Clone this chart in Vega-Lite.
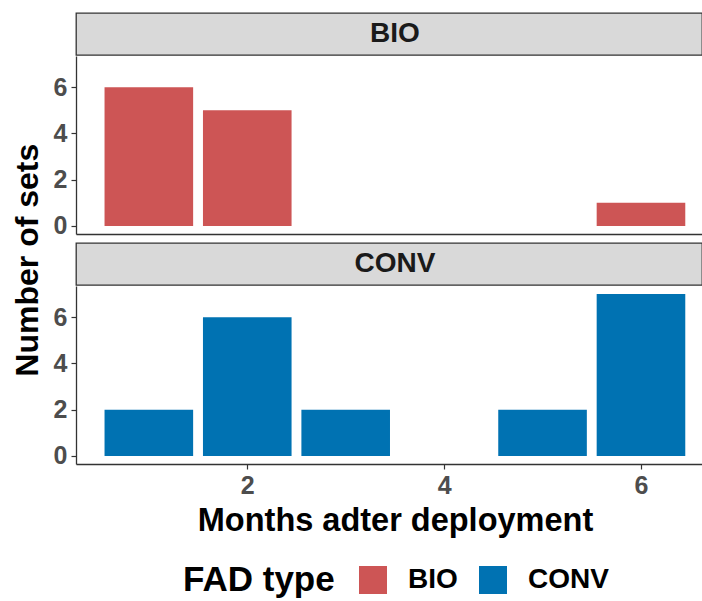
{
  "$schema": "https://vega.github.io/schema/vega-lite/v6.json",
  "padding": {"left": 12, "top": 12, "right": 0, "bottom": 0},
  "datasets": {
    "bars": [
      {"FAD": "BIO", "month": 1, "n": 6},
      {"FAD": "BIO", "month": 2, "n": 5},
      {"FAD": "BIO", "month": 6, "n": 1},
      {"FAD": "CONV", "month": 1, "n": 2},
      {"FAD": "CONV", "month": 2, "n": 6},
      {"FAD": "CONV", "month": 3, "n": 2},
      {"FAD": "CONV", "month": 5, "n": 2},
      {"FAD": "CONV", "month": 6, "n": 7}
    ],
    "stripBIO": [{"label": "BIO"}],
    "stripCONV": [{"label": "CONV"}]
  },
  "title": {
    "text": "Number of sets",
    "orient": "left",
    "anchor": "middle",
    "fontSize": 32,
    "fontWeight": "bold",
    "font": "Liberation Sans",
    "color": "#000000",
    "offset": 8,
    "dx": 45
  },
  "spacing": 3,
  "vconcat": [
    {
      "spacing": 0,
      "vconcat": [
        {
          "data": {"name": "stripBIO"},
          "width": 626,
          "height": 42,
          "view": {"fill": "#D9D9D9", "stroke": "#333333", "strokeWidth": 1.3},
          "mark": {"type": "text", "fontSize": 28, "fontWeight": "bold", "font": "Liberation Sans", "color": "#1A1A1A", "baseline": "middle", "align": "center", "dx": 6},
          "encoding": {"text": {"field": "label"}}
        },
        {
          "data": {"name": "bars"},
          "transform": [{"filter": "datum.FAD === 'BIO'"}],
          "width": 626,
          "height": 178,
          "view": {"stroke": null},
          "mark": {"type": "bar", "width": 88.6},
          "encoding": {
            "x": {"field": "month", "type": "quantitative", "scale": {"domain": [0.26, 6.62], "nice": false, "zero": false, "padding": 0},
                  "axis": {"title": null, "labels": false, "ticks": false, "grid": false}},
            "y": {"field": "n", "type": "quantitative", "scale": {"domain": [-0.35, 7.35], "nice": false, "zero": false, "padding": 0},
                  "axis": {"title": null, "values": [0, 2, 4, 6], "grid": false}},
            "color": {"field": "FAD", "type": "nominal", "scale": {"domain": ["BIO", "CONV"], "range": ["#CD5555", "#0072B2"]},
                      "legend": {"title": "FAD type"}}
          }
        }
      ]
    },
    {
      "spacing": 0,
      "vconcat": [
        {
          "data": {"name": "stripCONV"},
          "width": 626,
          "height": 42,
          "view": {"fill": "#D9D9D9", "stroke": "#333333", "strokeWidth": 1.3},
          "mark": {"type": "text", "fontSize": 28, "fontWeight": "bold", "font": "Liberation Sans", "color": "#1A1A1A", "baseline": "middle", "align": "center", "dx": 6},
          "encoding": {"text": {"field": "label"}}
        },
        {
          "data": {"name": "bars"},
          "transform": [{"filter": "datum.FAD === 'CONV'"}],
          "width": 626,
          "height": 178,
          "view": {"stroke": null},
          "mark": {"type": "bar", "width": 88.6},
          "encoding": {
            "x": {"field": "month", "type": "quantitative", "scale": {"domain": [0.26, 6.62], "nice": false, "zero": false, "padding": 0},
                  "axis": {"title": "Months adter deployment", "titleX": 319, "values": [2, 4, 6], "grid": false}},
            "y": {"field": "n", "type": "quantitative", "scale": {"domain": [-0.35, 7.35], "nice": false, "zero": false, "padding": 0},
                  "axis": {"title": null, "values": [0, 2, 4, 6], "grid": false}},
            "color": {"field": "FAD", "type": "nominal", "scale": {"domain": ["BIO", "CONV"], "range": ["#CD5555", "#0072B2"]},
                      "legend": {"title": "FAD type"}}
          }
        }
      ]
    }
  ],
  "config": {
    "font": "Liberation Sans",
    "axis": {
      "domainColor": "#333333",
      "domainWidth": 1.3,
      "tickColor": "#333333",
      "tickWidth": 1.2,
      "tickSize": 5,
      "labelFont": "Liberation Sans",
      "labelFontSize": 25,
      "labelFontWeight": "bold",
      "labelColor": "#4D4D4D",
      "labelPadding": 4,
      "titleFont": "Liberation Sans",
      "titleFontSize": 32.5,
      "titleFontWeight": "bold",
      "titleColor": "#000000",
      "titlePadding": 6
    },
    "legend": {
      "orient": "none",
      "legendX": 107,
      "legendY": 553,
      "direction": "horizontal",
      "titleOrient": "left",
      "titleFont": "Liberation Sans",
      "titleFontSize": 35,
      "titleFontWeight": "bold",
      "titleColor": "#000000",
      "titlePadding": 24,
      "labelFont": "Liberation Sans",
      "labelFontSize": 28,
      "labelFontWeight": "bold",
      "labelColor": "#000000",
      "labelOffset": 21,
      "symbolType": "square",
      "symbolSize": 784,
      "symbolStrokeWidth": 0,
      "symbolOpacity": 1,
      "columnPadding": 21
    }
  }
}
